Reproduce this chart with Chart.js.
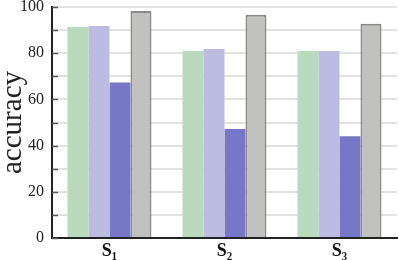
<!DOCTYPE html>
<html>
<head>
<meta charset="utf-8">
<script src="https://cdn.jsdelivr.net/npm/chart.js@4/dist/chart.umd.min.js"></script>
<style>
  html, body { margin: 0; padding: 0; background: #fff; }
  #wrap { width: 399px; height: 260px; }
</style>
</head>
<body>
<div id="wrap"><canvas id="c" width="399" height="260"></canvas></div>
<script>
// values
var categories = ['S\u2081', 'S\u2082', 'S\u2083'];
var greenVals = [91.3, 81.0, 81.0];
var lavenderVals = [91.8, 81.8, 81.0];
var blueVals = [67.3, 47.2, 44.0];
var grayVals = [98.3, 96.6, 92.8];
var yTicks = [0, 20, 40, 60, 80, 100];

var serif = "'Liberation Serif', 'DejaVu Serif', serif";

// small inward tick marks on the y axis
var innerTicks = {
  id: 'innerTicks',
  afterDraw: function(chart){
    var y = chart.scales.y, ctx = chart.ctx;
    var x0 = chart.chartArea.left;
    ctx.save();
    ctx.strokeStyle = '#555';
    ctx.lineWidth = 1.5;
    for (var v = 0; v <= 100; v += 10) {
      var py = Math.round(y.getPixelForValue(v)) + 0.5;
      ctx.beginPath();
      ctx.moveTo(x0, py);
      ctx.lineTo(x0 + 6, py);
      ctx.stroke();
    }
    ctx.restore();
  }
};

new Chart(document.getElementById('c'), {
  type: 'bar',
  data: {
    labels: categories,
    datasets: [
      { data: greenVals, backgroundColor: '#b9dabd', borderWidth: 0 },
      { data: lavenderVals, backgroundColor: '#bcbce3', borderWidth: 0 },
      { data: blueVals, backgroundColor: '#7777c8', borderWidth: 0 },
      { data: grayVals, backgroundColor: '#c1c1bf', borderColor: '#8a8a8a', borderWidth: 2 }
    ]
  },
  options: {
    responsive: false,
    animation: false,
    layout: { padding: { top: 0, right: 2, left: 0, bottom: 0 } },
    datasets: { bar: { categoryPercentage: 0.73, barPercentage: 1 } },
    plugins: { legend: { display: false }, tooltip: { enabled: false } },
    scales: {
      x: {
        grid: { display: false, drawTicks: false },
        border: { color: '#222', width: 2 },
        afterFit: function(s){ s.height = 22; s.paddingLeft = 0; s.paddingRight = 0; },
        ticks: { color: '#111', padding: 4, font: { family: serif, size: 18, weight: 'bold', lineHeight: 1 } }
      },
      y: {
        min: 0, max: 100,
        afterFit: function(s){ s.width = 52; s.paddingTop = 7; s.paddingBottom = 0; },
        afterBuildTicks: function(s){
          var t = [];
          for (var v = 0; v <= 100; v += 10) t.push({ value: v });
          s.ticks = t;
        },
        grid: { color: '#e2e2e2', lineWidth: 2, drawTicks: false },
        border: { color: '#222', width: 2 },
        ticks: {
          padding: 8, color: '#222',
          font: { family: serif, size: 16, lineHeight: 0.9 },
          callback: function(v){ return yTicks.indexOf(v) >= 0 ? String(v) : ''; }
        },
        title: {
          display: true, text: 'accuracy', color: '#222',
          padding: 0,
          font: { family: serif, size: 29, lineHeight: 0.9 }
        }
      }
    }
  },
  plugins: [innerTicks]
});
</script>
</body>
</html>
